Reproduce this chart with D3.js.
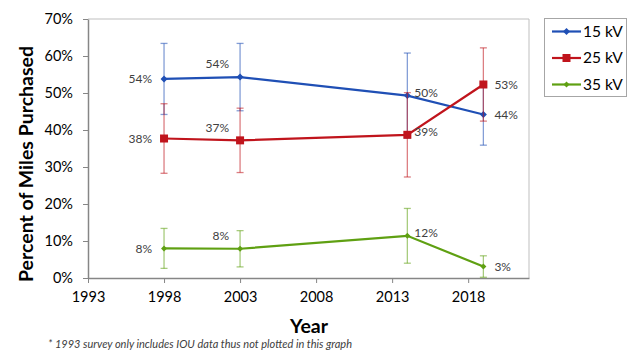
<!DOCTYPE html>
<html>
<head>
<meta charset="utf-8">
<script src="https://cdn.jsdelivr.net/npm/d3@7"></script>
<style>
  body { margin: 0; background: #fff; }
  svg { font-family: Lato, "Open Sans", sans-serif; }
</style>
</head>
<body>
<svg id="chart" width="630" height="351"></svg>
<script>
// DATA
const years = [1998, 2003, 2014, 2019];

const kv15 = [53.8, 54.3, 49.3, 44.2];
const kv15Err = [9.6, 9.1, 11.5, 8.3];
const kv15Labels = ["54%", "54%", "50%", "44%"];

const kv25 = [37.7, 37.2, 38.7, 52.3];
const kv25Err = [9.4, 8.7, 11.4, 9.9];
const kv25Labels = ["38%", "37%", "39%", "53%"];

const kv35 = [8.0, 7.9, 11.4, 3.1];
const kv35Err = [5.4, 4.9, 7.4, 2.9];
const kv35Labels = ["8%", "8%", "12%", "3%"];

const xTicks = [1993, 1998, 2003, 2008, 2013, 2018];
const yTicks = [0, 10, 20, 30, 40, 50, 60, 70];

const series = [
  {name: "15 kV", values: kv15, err: kv15Err, labels: kv15Labels, color: "#1f4fb5", marker: "diamond", size: 7},
  {name: "25 kV", values: kv25, err: kv25Err, labels: kv25Labels, color: "#c0141c", marker: "square", size: 8},
  {name: "35 kV", values: kv35, err: kv35Err, labels: kv35Labels, color: "#5fa012", marker: "diamond", size: 6}
];

// SETUP
const svg = d3.select("#chart");
const plotL = 88, plotR = 529, plotT = 19, plotB = 278;

const x = d3.scaleLinear().domain([1993, 2022]).range([plotL, plotR]);
const y = d3.scaleLinear().domain([0, 70]).range([plotB, plotT]);

// plot box (top + right)
svg.append("path")
  .attr("d", `M${plotL},${plotT}H${plotR}V${plotB}`)
  .attr("fill", "none")
  .attr("stroke", "#bfbfbf")
  .attr("stroke-width", 1);

// axes
const yAxis = svg.append("g")
  .attr("transform", `translate(${plotL},0)`)
  .call(d3.axisLeft(y).tickValues(yTicks).tickSize(5).tickSizeOuter(0).tickPadding(10).tickFormat(d => d + "%"));

const xAxis = svg.append("g")
  .attr("transform", `translate(0,${plotB})`)
  .call(d3.axisBottom(x).tickValues(xTicks).tickSize(5).tickSizeOuter(0).tickPadding(9).tickFormat(d3.format("d")));

[yAxis, xAxis].forEach(g => {
  g.select(".domain").attr("stroke", "#868686").attr("stroke-width", 1.5);
  g.selectAll(".tick line").attr("stroke", "#868686");
  g.selectAll(".tick text").attr("fill", "#000").style("font-size", "14.5px").style("font-family", "Lato, sans-serif");
});

// axis titles
svg.append("text")
  .attr("x", 309).attr("y", 333)
  .attr("text-anchor", "middle")
  .style("font-size", "19.5px").style("font-weight", "bold")
  .text("Year");

svg.append("text")
  .attr("transform", "translate(33,164) rotate(-90)")
  .attr("text-anchor", "middle")
  .style("font-size", "19.5px").style("font-weight", "bold")
  .text("Percent of Miles Purchased");

svg.append("text")
  .attr("x", 48).attr("y", 348)
  .style("font-size", "11px").style("font-style", "italic")
  .attr("fill", "#404040")
  .text("* 1993 survey only includes IOU data thus not plotted in this graph");

// marker helper
function marker(g, s, cx, cy, size) {
  if (s.marker === "square") {
    g.append("rect")
      .attr("x", cx - size / 2).attr("y", cy - size / 2)
      .attr("width", size).attr("height", size)
      .attr("fill", s.color);
  } else {
    const h = size / 2;
    g.append("path")
      .attr("d", `M${cx},${cy - h}L${cx + h},${cy}L${cx},${cy + h}L${cx - h},${cy}Z`)
      .attr("fill", s.color);
  }
}

// label offsets per point (1998 left, 2003 above-left, 2014 right, 2019 right)
const labelPos = [
  {dx: -12, dy: 0, anchor: "end"},
  {dx: -11, dy: -13, anchor: "end"},
  {dx: 7, dy: -3, anchor: "start"},
  {dx: 11, dy: 0, anchor: "start"}
];

series.forEach(s => {
  const g = svg.append("g");
  const pts = years.map((yr, i) => ({yr, v: s.values[i], e: s.err[i], lab: s.labels[i]}));

  // error bars
  pts.forEach(p => {
    const lo = Math.max(0, p.v - p.e), hi = p.v + p.e;
    const eb = g.append("g").attr("stroke", s.color).attr("stroke-opacity", 0.55).attr("stroke-width", 1.3);
    eb.append("line").attr("x1", x(p.yr)).attr("x2", x(p.yr)).attr("y1", y(lo)).attr("y2", y(hi));
    eb.append("line").attr("x1", x(p.yr) - 3.5).attr("x2", x(p.yr) + 3.5).attr("y1", y(hi)).attr("y2", y(hi));
    if (p.v - p.e > 0) {
      eb.append("line").attr("x1", x(p.yr) - 3.5).attr("x2", x(p.yr) + 3.5).attr("y1", y(lo)).attr("y2", y(lo));
    }
  });

  // line
  g.append("path")
    .datum(pts)
    .attr("fill", "none")
    .attr("stroke", s.color)
    .attr("stroke-width", 2.2)
    .attr("d", d3.line().x(d => x(d.yr)).y(d => y(d.v)));

  pts.forEach(p => marker(g, s, x(p.yr), y(p.v), s.size));

  // data labels
  pts.forEach((p, i) => {
    const lp = labelPos[i];
    g.append("text")
      .attr("x", x(p.yr) + lp.dx)
      .attr("y", y(p.v) + lp.dy)
      .attr("dy", "0.35em")
      .attr("text-anchor", lp.anchor)
      .attr("fill", "#404040")
      .style("font-size", "12px")
      .text(p.lab);
  });
});

// LEGEND
const legend = svg.append("g");
legend.append("rect")
  .attr("x", 544.5).attr("y", 18.5)
  .attr("width", 82).attr("height", 78)
  .attr("fill", "#fff")
  .attr("stroke", "#a6a6a6");

series.forEach((s, i) => {
  const ly = 31.5 + i * 26.5;
  legend.append("line")
    .attr("x1", 552).attr("x2", 581)
    .attr("y1", ly).attr("y2", ly)
    .attr("stroke", s.color).attr("stroke-width", 2.2);
  marker(legend, s, 566.5, ly, s.size);
  legend.append("text")
    .attr("x", 583).attr("y", ly)
    .attr("dy", "0.35em")
    .style("font-size", "15.5px")
    .text(s.name);
});
</script>
</body>
</html>
